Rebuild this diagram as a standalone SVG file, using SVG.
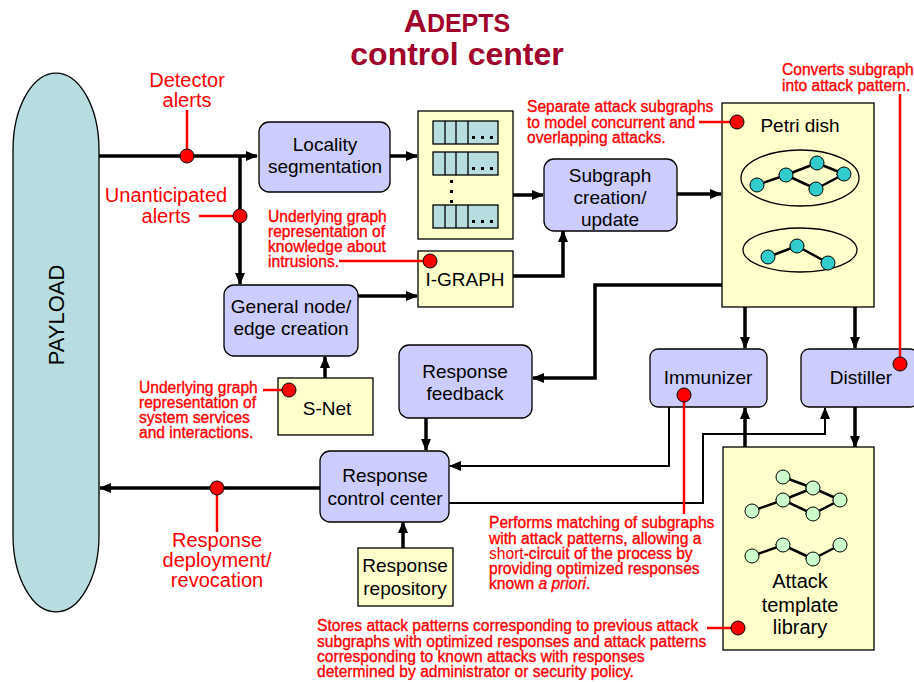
<svg xmlns="http://www.w3.org/2000/svg" width="914" height="682" viewBox="0 0 914 682">
<style>
text{font-family:"Liberation Sans",Arial,sans-serif}
.t{font-size:19px;fill:#000;text-anchor:middle}
.ann{font-size:15.6px;fill:#FF0000;stroke:#FF0000;stroke-width:0.35}
.lab{font-size:20px;fill:#FF0000;text-anchor:middle}
.blue{fill:#CCCCFF;stroke:#000;stroke-width:1.3}
.yel{fill:#FFFFCC;stroke:#000;stroke-width:1.3}
.cell{fill:#B8DDE0;stroke:#000;stroke-width:1.3}
.c{fill:none;stroke:#000;stroke-width:3.5}
.thin{fill:none;stroke:#000;stroke-width:2}
.rl{fill:none;stroke:#FF0000;stroke-width:2.5}
.rd{fill:#FF0000;stroke:#000;stroke-width:1}
.tn{fill:#33CCCC;stroke:#000;stroke-width:1}
.gn{fill:#CCFFCC;stroke:#000;stroke-width:1}
.ge{stroke:#000;stroke-width:2.5;fill:none}
.dot{fill:#000}
</style>
<defs>
<marker id="ah" markerUnits="userSpaceOnUse" markerWidth="12" markerHeight="12" viewBox="0 0 12 12" refX="11" refY="6" orient="auto">
<path d="M0,1 L12,6 L0,11 Z" fill="#000"/>
</marker>
<marker id="sa" markerUnits="userSpaceOnUse" markerWidth="8" markerHeight="8" viewBox="0 0 8 8" refX="7" refY="4" orient="auto">
<path d="M0,0.5 L8,4 L0,7.5 Z" fill="#000"/>
</marker>
</defs>

<g id="title">
<text x="457" y="32" text-anchor="middle" font-weight="bold" fill="#A0002A"><tspan font-size="32">A</tspan><tspan font-size="25">DEPTS</tspan></text>
<text x="457" y="65" text-anchor="middle" font-weight="bold" font-size="32" fill="#A0002A">control center</text>
</g>

<g id="payload">
<path d="M13,150 A43,77 0 0 1 99,150 L99,535 A43,77 0 0 1 13,535 Z" fill="#B8DDE0" stroke="#000" stroke-width="1.3"/>
<text class="t" transform="translate(64,315) rotate(-90)" style="font-size:22px">PAYLOAD</text>
</g>

<g id="connectors">
<path class="c" d="M99,156 H257" marker-end="url(#ah)"/>
<path class="c" d="M240,156 V284" marker-end="url(#ah)"/>
<path class="c" d="M390,156 H417" marker-end="url(#ah)"/>
<path class="c" d="M513,195 H543" marker-end="url(#ah)"/>
<path class="c" d="M677,194 H721" marker-end="url(#ah)"/>
<path class="c" d="M358,296 H417" marker-end="url(#ah)"/>
<path class="c" d="M513,276 H563 V231" marker-end="url(#ah)"/>
<path class="c" d="M325,378 V357" marker-end="url(#ah)"/>
<path class="c" d="M722,285 H595 V378 H533" marker-end="url(#ah)"/>
<path class="c" d="M745,307 V348" marker-end="url(#ah)"/>
<path class="c" d="M855,307 V348" marker-end="url(#ah)"/>
<path class="c" d="M426,418 V450" marker-end="url(#ah)"/>
<path class="thin" d="M669,407 V466 H450" marker-end="url(#ah)"/>
<path class="thin" d="M449,503 H703 V434 H825 V408" marker-end="url(#ah)"/>
<path class="c" d="M745,448 V408" marker-end="url(#ah)"/>
<path class="c" d="M855,407 V447" marker-end="url(#ah)"/>
<path class="c" d="M320,488 H100" marker-end="url(#ah)"/>
<path class="c" d="M403,548 V522" marker-end="url(#ah)"/>
</g>

<g id="locality">
<rect class="blue" x="259" y="122" width="131" height="70" rx="10"/>
<text class="t" x="325" y="151">Locality</text>
<text class="t" x="325" y="173">segmentation</text>
</g>

<g id="list">
<rect class="yel" x="418" y="111" width="95" height="128"/>
<g id="row1">
<rect class="cell" x="433" y="121" width="65" height="23"/>
<path d="M445,121 V144 M456,121 V144 M468,121 V144" stroke="#000" stroke-width="1.3"/>
<rect class="dot" x="472" y="136" width="3" height="3"/><rect class="dot" x="481" y="136" width="3" height="3"/><rect class="dot" x="490" y="136" width="3" height="3"/>
</g>
<g id="row2">
<rect class="cell" x="433" y="152" width="65" height="23"/>
<path d="M445,152 V175 M456,152 V175 M468,152 V175" stroke="#000" stroke-width="1.3"/>
<rect class="dot" x="472" y="167" width="3" height="3"/><rect class="dot" x="481" y="167" width="3" height="3"/><rect class="dot" x="490" y="167" width="3" height="3"/>
</g>
<rect class="dot" x="450" y="180" width="3" height="3"/><rect class="dot" x="450" y="190" width="3" height="3"/><rect class="dot" x="450" y="200" width="3" height="3"/>
<g id="row3">
<rect class="cell" x="433" y="205" width="65" height="23"/>
<path d="M445,205 V228 M456,205 V228 M468,205 V228" stroke="#000" stroke-width="1.3"/>
<rect class="dot" x="472" y="220" width="3" height="3"/><rect class="dot" x="481" y="220" width="3" height="3"/><rect class="dot" x="490" y="220" width="3" height="3"/>
</g>
</g>

<g id="subgraph">
<rect class="blue" x="544" y="159" width="133" height="72" rx="10"/>
<text class="t" x="610" y="182">Subgraph</text>
<text class="t" x="610" y="204">creation/</text>
<text class="t" x="610" y="226">update</text>
</g>

<g id="petri">
<rect class="yel" x="722" y="103" width="152" height="204"/>
<text class="t" x="800" y="132">Petri dish</text>
<ellipse cx="800" cy="178" rx="59" ry="28" fill="none" stroke="#000" stroke-width="1.3"/>
<ellipse cx="800" cy="250" rx="57" ry="22" fill="none" stroke="#000" stroke-width="1.3"/>
<path class="ge" d="M757,185 L786,175" marker-end="url(#sa)"/>
<path class="ge" d="M786,175 L817,163" marker-end="url(#sa)"/>
<path class="ge" d="M786,175 L816,189" marker-end="url(#sa)"/>
<path class="ge" d="M817,163 L844,174" marker-end="url(#sa)"/>
<path class="ge" d="M816,189 L844,174" marker-end="url(#sa)"/>
<path class="ge" d="M768,257 L797,246" marker-end="url(#sa)"/>
<path class="ge" d="M797,246 L828,263" marker-end="url(#sa)"/>
<circle class="tn" cx="757" cy="185" r="7"/><circle class="tn" cx="786" cy="175" r="7"/><circle class="tn" cx="817" cy="163" r="7"/><circle class="tn" cx="844" cy="174" r="7"/><circle class="tn" cx="816" cy="189" r="7"/>
<circle class="tn" cx="768" cy="257" r="7"/><circle class="tn" cx="797" cy="246" r="7"/><circle class="tn" cx="828" cy="263" r="7"/>
</g>

<g id="igraph">
<rect class="yel" x="418" y="251" width="95" height="56"/>
<text class="t" x="465" y="286">I-GRAPH</text>
</g>

<g id="general">
<rect class="blue" x="224" y="285" width="134" height="71" rx="10"/>
<text class="t" x="291" y="313">General node/</text>
<text class="t" x="291" y="335">edge creation</text>
</g>

<g id="snet">
<rect class="yel" x="278" y="378" width="95" height="57"/>
<text class="t" x="327" y="415">S-Net</text>
</g>

<g id="feedback">
<rect class="blue" x="399" y="345" width="133" height="73" rx="10"/>
<text class="t" x="465" y="378">Response</text>
<text class="t" x="465" y="400">feedback</text>
</g>

<g id="immunizer">
<rect class="blue" x="650" y="349" width="117" height="58" rx="8"/>
<text class="t" x="708" y="384">Immunizer</text>
</g>

<g id="distiller">
<rect class="blue" x="801" y="349" width="117" height="58" rx="8"/>
<text class="t" x="861" y="384">Distiller</text>
</g>

<g id="rcc">
<rect class="blue" x="320" y="451" width="129" height="71" rx="10"/>
<text class="t" x="385" y="482">Response</text>
<text class="t" x="385" y="505">control center</text>
</g>

<g id="repository">
<rect class="yel" x="358" y="548" width="95" height="58"/>
<text class="t" x="405" y="572">Response</text>
<text class="t" x="405" y="595">repository</text>
</g>

<g id="library">
<rect class="yel" x="723" y="447" width="151" height="203"/>
<path class="ge" d="M752,511 L783,500" marker-end="url(#sa)"/>
<path class="ge" d="M783,500 L813,488" marker-end="url(#sa)"/>
<path class="ge" d="M783,500 L813,514" marker-end="url(#sa)"/>
<path class="ge" d="M783,477 L813,488" marker-end="url(#sa)"/>
<path class="ge" d="M813,488 L840,500" marker-end="url(#sa)"/>
<path class="ge" d="M813,514 L840,500" marker-end="url(#sa)"/>
<path class="ge" d="M752,556 L783,545" marker-end="url(#sa)"/>
<path class="ge" d="M783,545 L813,559" marker-end="url(#sa)"/>
<path class="ge" d="M813,559 L840,545" marker-end="url(#sa)"/>
<circle class="gn" cx="783" cy="477" r="7"/><circle class="gn" cx="813" cy="488" r="7"/><circle class="gn" cx="783" cy="500" r="7"/><circle class="gn" cx="752" cy="511" r="7"/><circle class="gn" cx="813" cy="514" r="7"/><circle class="gn" cx="840" cy="500" r="7"/>
<circle class="gn" cx="752" cy="556" r="7"/><circle class="gn" cx="783" cy="545" r="7"/><circle class="gn" cx="813" cy="559" r="7"/><circle class="gn" cx="840" cy="545" r="7"/>
<text class="t" x="800" y="588" style="font-size:20px">Attack</text>
<text class="t" x="800" y="612" style="font-size:20px">template</text>
<text class="t" x="800" y="634" style="font-size:20px">library</text>
</g>

<g id="annotations">
<text class="lab" x="187" y="87">Detector</text>
<text class="lab" x="187" y="107">alerts</text>
<path class="rl" d="M187,110 V156"/>
<circle class="rd" cx="187" cy="156" r="7"/>

<text class="lab" x="166" y="202">Unanticipated</text>
<text class="lab" x="166" y="223">alerts</text>
<path class="rl" d="M199,216 H240"/>
<circle class="rd" cx="240" cy="216" r="7"/>

<text class="ann" x="268" y="222">Underlying graph</text>
<text class="ann" x="268" y="237">representation of</text>
<text class="ann" x="268" y="252">knowledge about</text>
<text class="ann" x="268" y="267">intrusions.</text>
<path class="rl" d="M339,261 H430"/>
<circle class="rd" cx="430" cy="261" r="7"/>

<text class="ann" x="139" y="393">Underlying graph</text>
<text class="ann" x="139" y="408">representation of</text>
<text class="ann" x="139" y="423">system services</text>
<text class="ann" x="139" y="438">and interactions.</text>
<path class="rl" d="M263,390 H289"/>
<circle class="rd" cx="289" cy="390" r="7"/>

<text class="ann" x="527" y="112">Separate attack subgraphs</text>
<text class="ann" x="527" y="128">to model concurrent and</text>
<text class="ann" x="527" y="143">overlapping attacks.</text>
<path class="rl" d="M699,122 H737"/>
<circle class="rd" cx="737" cy="122" r="7"/>

<text class="ann" x="782" y="75">Converts subgraph</text>
<text class="ann" x="782" y="91">into attack pattern.</text>
<path class="rl" d="M900,94 V364"/>
<circle class="rd" cx="900" cy="364" r="7"/>

<path class="rl" d="M684,395 V514"/>
<circle class="rd" cx="684" cy="395" r="7"/>
<text class="ann" x="489" y="528">Performs matching of subgraphs</text>
<text class="ann" x="489" y="544">with attack patterns, allowing a</text>
<text class="ann" x="489" y="559"><tspan stroke="none">short</tspan>-circuit of the process by</text>
<text class="ann" x="489" y="574">providing optimized responses</text>
<text class="ann" x="489" y="589">known <tspan font-style="italic">a priori</tspan>.</text>

<path class="rl" d="M217,488 V532"/>
<circle class="rd" cx="217" cy="488" r="7"/>
<text class="lab" x="217" y="547">Response</text>
<text class="lab" x="217" y="567">deployment/</text>
<text class="lab" x="217" y="587">revocation</text>

<text class="ann" x="317" y="631">Stores attack patterns corresponding to previous attack</text>
<text class="ann" x="317" y="647">subgraphs with optimized responses and attack patterns</text>
<text class="ann" x="317" y="662">corresponding to known attacks with responses</text>
<text class="ann" x="317" y="677">determined by administrator or security policy.</text>
<path class="rl" d="M707,628 H738"/>
<circle class="rd" cx="738" cy="628" r="7"/>
</g>
</svg>
